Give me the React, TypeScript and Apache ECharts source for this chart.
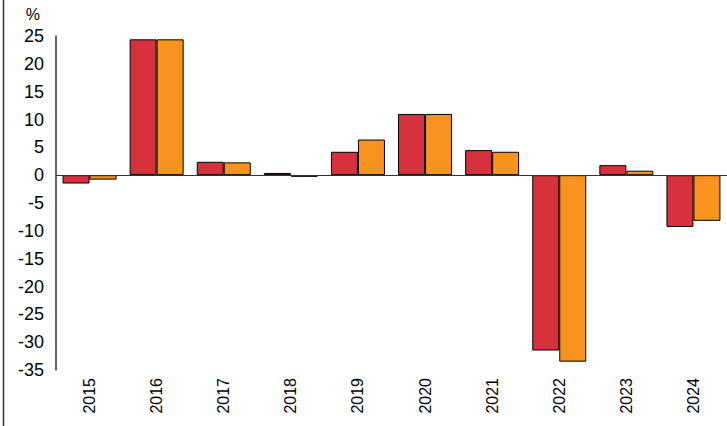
import React, { useEffect, useRef } from "react";
import * as echarts from "echarts";

const years = ["2015", "2016", "2017", "2018", "2019", "2020", "2021", "2022", "2023", "2024"];
const redValues = [-1.5, 24.4, 2.4, 0.4, 4.2, 11, 4.5, -31.5, 1.8, -9.3];
const orangeValues = [-0.8, 24.4, 2.3, -0.3, 6.4, 11, 4.2, -33.5, 0.8, -8.2];

export default function App() {
  const chartRef = useRef<HTMLDivElement>(null);

  useEffect(() => {
    if (!chartRef.current) return;
    const chart = echarts.init(chartRef.current, null, { renderer: "svg" });
    const font = "'Liberation Sans', Arial, sans-serif";

    chart.setOption({
      animation: false,
      textStyle: { fontFamily: font },
      grid: { left: 56, right: 0, top: 36, bottom: 56 },
      graphic: [
        { type: "line", shape: { x1: 3.5, y1: 0, x2: 3.5, y2: 426 }, style: { stroke: "#333", lineWidth: 1.5 } },
      ],
      xAxis: {
        type: "category",
        data: years,
        axisLine: { show: false },
        axisTick: { show: false },
        axisLabel: { rotate: 90, color: "#000", fontSize: 16, margin: 8, fontFamily: font },
      },
      yAxis: {
        type: "value",
        min: -35,
        max: 25,
        interval: 5,
        name: "%",
        nameGap: 14,
        nameTextStyle: { color: "#000", fontSize: 16, align: "right", padding: [0, 16, 0, 0], fontFamily: font },
        splitLine: { show: false },
        axisLine: { show: true, lineStyle: { color: "#333", width: 1.5 } },
        axisTick: { show: false },
        axisLabel: { color: "#000", fontSize: 18, margin: 12, fontFamily: font },
      },
      series: [
        {
          type: "bar",
          data: redValues,
          barWidth: 27,
          barGap: "0%",
          itemStyle: { color: "#D7313E", borderColor: "#000", borderWidth: 1 },
          markLine: {
            silent: true,
            symbol: "none",
            label: { show: false },
            lineStyle: { color: "#333", type: "solid", width: 1 },
            data: [{ yAxis: 0 }],
          },
        },
        {
          type: "bar",
          data: orangeValues,
          barWidth: 27,
          barGap: "0%",
          itemStyle: { color: "#F7931E", borderColor: "#000", borderWidth: 1 },
        },
      ],
    });

    return () => chart.dispose();
  }, []);

  return <div ref={chartRef} style={{ width: 727, height: 426, position: "absolute", left: 0, top: 0 }} />;
}
